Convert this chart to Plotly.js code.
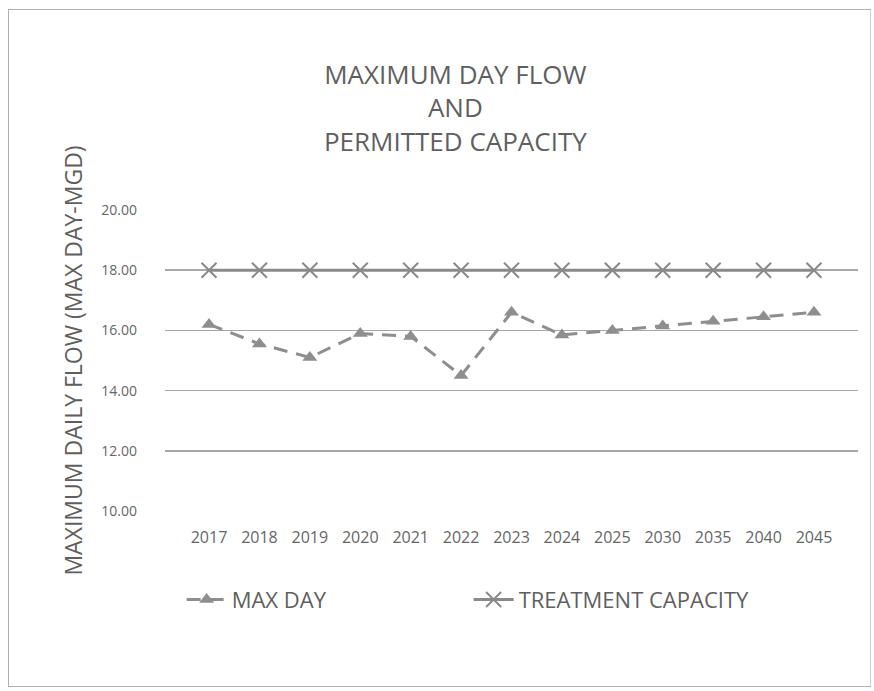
<!DOCTYPE html>
<html>
<head>
<meta charset="utf-8">
<script src="https://cdn.plot.ly/plotly-3.0.1.min.js"></script>
<style>
html,body{margin:0;padding:0;background:#fff;}
#frame{position:absolute;left:8px;top:9px;width:861px;height:676px;border:1px solid #b0b0b0;border-right-color:#d0d0d0;}
#chart{position:absolute;left:0;top:0;width:874px;height:691px;}
</style>
</head>
<body>
<div id="frame"></div>
<div id="chart"></div>
<script>
const years = ["2017","2018","2019","2020","2021","2022","2023","2024","2025","2030","2035","2040","2045"];
const maxDay = [16.2, 15.55, 15.1, 15.9, 15.8, 14.5, 16.6, 15.85, 16.0, 16.15, 16.3, 16.45, 16.6];
const capacity = [18, 18, 18, 18, 18, 18, 18, 18, 18, 18, 18, 18, 18];
const yTicks = [10, 12, 14, 16, 18, 20];
const yTickText = ["10.00", "12.00", "14.00", "16.00", "18.00", "20.00"];

const font = "Open Sans, Noto Sans, sans-serif";

const traces = [
  {
    x: years, y: maxDay, name: "MAX DAY", type: "scatter", mode: "lines+markers",
    line: {color: "#8e8e8e", width: 3, dash: "14px,9px"},
    marker: {symbol: "triangle-up", size: 13, color: "#8e8e8e"}
  },
  {
    x: years, y: capacity, name: "TREATMENT CAPACITY", type: "scatter", mode: "lines+markers",
    line: {color: "#8a8a8a", width: 3},
    marker: {symbol: "x-thin", size: 15, line: {color: "#8a8a8a", width: 2}}
  }
];

const layout = {
  width: 874, height: 691,
  paper_bgcolor: "rgba(0,0,0,0)", plot_bgcolor: "rgba(0,0,0,0)",
  margin: {l: 165, r: 16, t: 210, b: 180},
  showlegend: true,
  title: {
    text: "MAXIMUM DAY FLOW<br>AND<br>PERMITTED CAPACITY",
    x: 0.521, xanchor: "center", yref: "container", y: 0.879, yanchor: "top",
    font: {family: font, size: 26, color: "#5f5f5f"}
  },
  xaxis: {
    type: "category", showgrid: false, zeroline: false, showline: false,
    ticks: "", ticklabelstandoff: 15,
    tickfont: {family: font, size: 16, color: "#666"}
  },
  yaxis: {
    range: [10, 20], tickvals: yTicks, ticktext: yTickText,
    showgrid: true, gridcolor: "#a8a8a8", gridwidth: 1.5, zeroline: false, showline: false,
    ticks: "", ticklabelstandoff: 27,
    tickfont: {family: font, size: 14, color: "#666"},
    title: {text: "MAXIMUM DAILY FLOW (MAX DAY-MGD)", standoff: 12,
            font: {family: font, size: 23, color: "#5f5f5f"}}
  },
  legend: {
    orientation: "h", x: 0.024, xanchor: "left", y: -0.225, yanchor: "top",
    entrywidth: 232, entrywidthmode: "pixels",
    font: {family: font, size: 22, color: "#5f5f5f"},
    itemwidth: 40
  }
};
Plotly.newPlot("chart", traces, layout, {displayModeBar: false, staticPlot: true});
</script>
</body>
</html>
